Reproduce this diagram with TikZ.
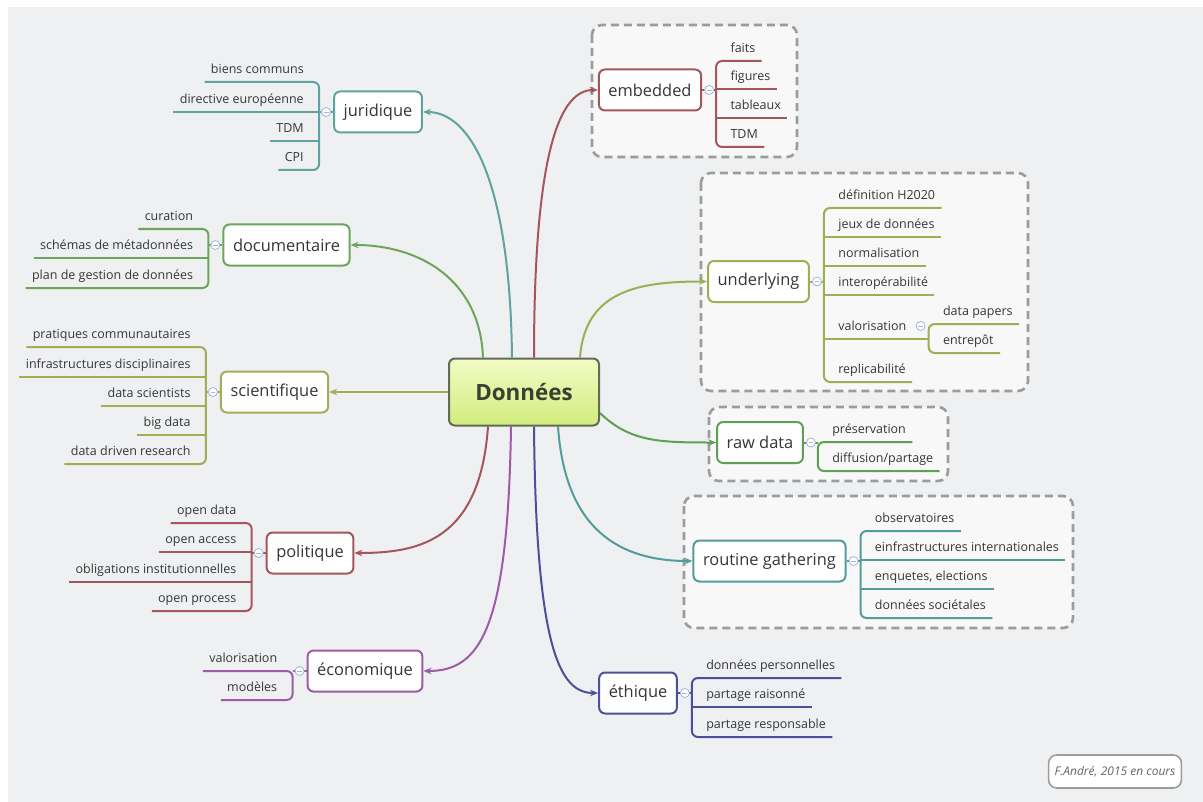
\documentclass[tikz,border=0pt]{standalone}
\usepackage{fontspec}
\setmainfont{Open Sans}
\usetikzlibrary{calc, arrows.meta, backgrounds}

\definecolor{bggray}{HTML}{EFF0F2}
\definecolor{txt}{HTML}{363636}
\definecolor{boxgray}{HTML}{9C9C9C}
\definecolor{foldc}{HTML}{A3B6D8}
\definecolor{cjur}{HTML}{5FA39E}
\definecolor{cdoc}{HTML}{6CA65A}
\definecolor{csci}{HTML}{A6AB55}
\definecolor{cpol}{HTML}{A4575A}
\definecolor{ceco}{HTML}{9C5CA6}
\definecolor{cund}{HTML}{9DAE55}
\definecolor{craw}{HTML}{5EA054}
\definecolor{crou}{HTML}{539C9A}
\definecolor{ceth}{HTML}{4D4F98}
\definecolor{donline}{HTML}{626B57}
\definecolor{dontop}{HTML}{F3FBC6}
\definecolor{donbot}{HTML}{D2EC7C}
\definecolor{dontxt}{HTML}{3B4032}

\newcommand{\leaffont}{\fontsize{6.25}{7.5}\selectfont}
\newcommand{\topicfont}{\fontsize{8.2}{10}\selectfont}

\tikzset{
  center/.style={draw=donline, line width=1pt, rounded corners=3pt,
    top color=dontop, bottom color=donbot, text=dontxt,
    font=\fontsize{11.2}{13}\selectfont\bfseries, minimum width=75pt, minimum height=33.5pt},
  topic/.style={draw, line width=1pt, rounded corners=3pt, fill=white, text=txt,
    font=\topicfont, minimum height=20.5pt, inner xsep=4.8pt},
  leafl/.style={anchor=south east, inner xsep=3pt, inner ysep=2pt, text height=0.72em,
    text depth=0.22em, font=\leaffont, text=txt},
  leafr/.style={leafl, anchor=south west},
  branch/.style={line width=1pt, rounded corners=3pt},
  link/.style={line width=1pt, -{Stealth[length=4pt,width=3.2pt]}},
  groupbox/.style={draw=boxgray, line width=1.3pt, dash pattern=on 4pt off 2.5pt,
    rounded corners=5pt, fill=white!55!bggray},
  fold/.style={circle, draw=foldc, fill=white, inner sep=0pt, minimum size=4.5pt,
    path picture={\draw[foldc] ([xshift=-1.2pt]path picture bounding box.center)
      -- ([xshift=1.2pt]path picture bounding box.center);}},
  note/.style={draw=boxgray, line width=0.8pt, rounded corners=4pt, fill=white,
    text=black!60, font=\fontsize{6}{7}\selectfont\itshape, minimum height=16.5pt, inner xsep=3pt}
}

\begin{document}
\begin{tikzpicture}[x=0.5pt, y=-0.5pt]
\useasboundingbox (0,0) rectangle (1203,802);

% central topic
\node[center] (don) at (524,392) {Données};

% main topics
\node[topic, draw=cjur] (jur) at (378,112) {juridique};
\node[topic, draw=cdoc] (doc) at (286.5,245) {documentaire};
\node[topic, draw=csci] (sci) at (274.5,392) {scientifique};
\node[topic, draw=cpol] (pol) at (310,553) {politique};
\node[topic, draw=ceco] (eco) at (365,671) {économique};
\node[topic, draw=cpol] (emb) at (650,90) {embedded};
\node[topic, draw=cund] (und) at (758.5,281.5) {underlying};
\node[topic, draw=craw] (raw) at (760,442.5) {raw data};
\node[topic, draw=crou] (rou) at (769.5,561) {routine gathering};
\node[topic, draw=ceth] (eth) at (638,693) {éthique};

% juridique
\coordinate (jsp) at ($(jur.west)+(-14,0)$);
\foreach \i/\lbl/\y in {1/biens communs/82, 2/directive européenne/112, 3/TDM/141, 4/CPI/170}
  \node[leafl] (ju\i) at ($(jsp |- 0,\y)+(-9,0)$) {\lbl};
\draw[branch, cjur] (ju1.south west) -- (ju1.south west -| jsp) -- (ju4.south west -| jsp) -- (ju4.south west);
\foreach \i in {2,3} \draw[branch, cjur] (ju\i.south west) -- (ju\i.south west -| jsp);
\draw[branch, cjur] (jur.west) -- (jsp |- jur.west);
\node[fold] at ($(jur.west)!0.5!(jsp |- jur.west)$) {};

% documentaire
\coordinate (dsp) at ($(doc.west)+(-14,0)$);
\foreach \i/\lbl/\y in {1/curation/229, 2/schémas de métadonnées/258, 3/plan de gestion de données/288}
  \node[leafl] (do\i) at ($(dsp |- 0,\y)+(-9,0)$) {\lbl};
\draw[branch, cdoc] (do1.south west) -- (do1.south west -| dsp) -- (do3.south west -| dsp) -- (do3.south west);
\draw[branch, cdoc] (do2.south west) -- (do2.south west -| dsp);
\draw[branch, cdoc] (doc.west) -- (dsp |- doc.west);
\node[fold] at ($(doc.west)!0.5!(dsp |- doc.west)$) {};

% scientifique
\coordinate (ssp) at ($(sci.west)+(-14,0)$);
\foreach \i/\lbl/\y in {1/pratiques communautaires/347, 2/infrastructures disciplinaires/377,
    3/data scientists/406, 4/big data/435, 5/data driven research/464}
  \node[leafl] (sc\i) at ($(ssp |- 0,\y)+(-9,0)$) {\lbl};
\draw[branch, csci] (sc1.south west) -- (sc1.south west -| ssp) -- (sc5.south west -| ssp) -- (sc5.south west);
\foreach \i in {2,3,4} \draw[branch, csci] (sc\i.south west) -- (sc\i.south west -| ssp);
\draw[branch, csci] (sci.west) -- (ssp |- sci.west);
\node[fold] at ($(sci.west)!0.5!(ssp |- sci.west)$) {};

% politique
\coordinate (psp) at ($(pol.west)+(-14,0)$);
\foreach \i/\lbl/\y in {1/open data/523, 2/open access/552, 3/obligations institutionnelles/582, 4/open process/611}
  \node[leafl] (po\i) at ($(psp |- 0,\y)+(-9,0)$) {\lbl};
\draw[branch, cpol] (po1.south west) -- (po1.south west -| psp) -- (po4.south west -| psp) -- (po4.south west);
\foreach \i in {2,3} \draw[branch, cpol] (po\i.south west) -- (po\i.south west -| psp);
\draw[branch, cpol] (pol.west) -- (psp |- pol.west);
\node[fold] at ($(pol.west)!0.5!(psp |- pol.west)$) {};

% economique
\coordinate (esp) at ($(eco.west)+(-14,0)$);
\foreach \i/\lbl/\y in {1/valorisation/671, 2/modèles/700}
  \node[leafl] (ec\i) at ($(esp |- 0,\y)+(-9,0)$) {\lbl};
\draw[branch, ceco] (ec1.south west) -- (ec1.south west -| esp) -- (ec2.south west -| esp) -- (ec2.south west);
\draw[branch, ceco] (eco.west) -- (esp |- eco.west);
\node[fold] at ($(eco.west)!0.5!(esp |- eco.west)$) {};

% embedded
\coordinate (msp) at ($(emb.east)+(14,0)$);
\foreach \i/\lbl/\y in {1/faits/61, 2/figures/89, 3/tableaux/118, 4/TDM/147}
  \node[leafr] (em\i) at ($(msp |- 0,\y)+(8,0)$) {\lbl};
\draw[branch, cpol] (em1.south east) -- (em1.south west -| msp) -- (em4.south west -| msp) -- (em4.south east);
\foreach \i in {2,3} \draw[branch, cpol] (em\i.south west -| msp) -- (em\i.south east);
\draw[branch, cpol] (emb.east) -- (msp |- emb.east);
\node[fold] at ($(emb.east)!0.5!(msp |- emb.east)$) {};

% underlying
\coordinate (usp) at ($(und.east)+(14,0)$);
\foreach \i/\lbl/\y in {1/définition H2020/208, 2/jeux de données/237, 3/normalisation/266,
    4/interopérabilité/295, 5/valorisation/339, 6/replicabilité/382}
  \node[leafr] (un\i) at ($(usp |- 0,\y)+(8,0)$) {\lbl};
\draw[branch, cund] (un1.south east) -- (un1.south west -| usp) -- (un6.south west -| usp) -- (un6.south east);
\foreach \i in {2,3,4} \draw[branch, cund] (un\i.south west -| usp) -- (un\i.south east);
\draw[branch, cund] (und.east) -- (usp |- und.east);
\node[fold] at ($(und.east)!0.5!(usp |- und.east)$) {};
% valorisation sub-branch
\coordinate (vsp) at ($(un5.south east)+(16,0)$);
\draw[branch, cund] (un5.south west -| usp) -- (vsp);
\foreach \i/\lbl/\y in {1/data papers/324, 2/entrepôt/353}
  \node[leafr] (va\i) at ($(vsp |- 0,\y)+(8,0)$) {\lbl};
\draw[branch, cund] (va1.south east) -- (va1.south west -| vsp) -- (va2.south west -| vsp) -- (va2.south east);
\node[fold] at ($(vsp)+(-8,-13)$) {};

% raw data
\coordinate (rsp) at ($(raw.east)+(14,0)$);
\foreach \i/\lbl/\y in {1/préservation/442, 2/diffusion\slash partage/471}
  \node[leafr] (ra\i) at ($(rsp |- 0,\y)+(8,0)$) {\lbl};
\draw[branch, craw] (ra1.south east) -- (ra1.south west -| rsp) -- (ra2.south west -| rsp) -- (ra2.south east);
\draw[branch, craw] (raw.east) -- (rsp |- raw.east);
\node[fold] at ($(raw.east)!0.5!(rsp |- raw.east)$) {};

% routine gathering
\coordinate (gsp) at ($(rou.east)+(14,0)$);
\foreach \i/\lbl/\y in {1/observatoires/531, 2/einfrastructures internationales/560,
    3/{enquetes, elections}/589, 4/données sociétales/618}
  \node[leafr] (ro\i) at ($(gsp |- 0,\y)+(8,0)$) {\lbl};
\draw[branch, crou] (ro1.south east) -- (ro1.south west -| gsp) -- (ro4.south west -| gsp) -- (ro4.south east);
\foreach \i in {2,3} \draw[branch, crou] (ro\i.south west -| gsp) -- (ro\i.south east);
\draw[branch, crou] (rou.east) -- (gsp |- rou.east);
\node[fold] at ($(rou.east)!0.5!(gsp |- rou.east)$) {};

% ethique
\coordinate (tsp) at ($(eth.east)+(14,0)$);
\foreach \i/\lbl/\y in {1/données personnelles/678, 2/partage raisonné/707, 3/partage responsable/737}
  \node[leafr] (et\i) at ($(tsp |- 0,\y)+(8,0)$) {\lbl};
\draw[branch, ceth] (et1.south east) -- (et1.south west -| tsp) -- (et3.south west -| tsp) -- (et3.south east);
\draw[branch, ceth] (et2.south west -| tsp) -- (et2.south east);
\draw[branch, ceth] (eth.east) -- (tsp |- eth.east);
\node[fold] at ($(eth.east)!0.5!(tsp |- eth.east)$) {};

\node[note] (credit) at (1115,771.5) {F.André, 2015 en cours};

\begin{scope}[on background layer]
\fill[bggray] (8,7) rectangle (1203,802);
% dashed groups
\draw[groupbox] (592,25) rectangle (797,157);
\draw[groupbox] (701,173) rectangle (1028,391);
\draw[groupbox] (709,407) rectangle (948,481);
\draw[groupbox] (684,496) rectangle (1073,628);
% links from the central topic
\draw[link, cjur] ($(don.north)+(-12,0)$) .. controls (510,180) and (470,112) .. (jur.east);
\draw[link, cdoc] ($(don.north)+(-41,0)$) .. controls (480,280) and (420,245) .. (doc.east);
\draw[link, csci] (don.west) -- (sci.east);
\draw[link, cpol] ($(don.south)+(-36,0)$) .. controls (480,540) and (420,553) .. (pol.east);
\draw[link, ceco] ($(don.south)+(-13,0)$) .. controls (508,630) and (480,671) .. (eco.east);
\draw[link, cpol] ($(don.north)+(10,0)$) .. controls (534,150) and (560,90) .. (emb.west);
\draw[link, cund] ($(don.north)+(56,0)$) .. controls (585,290) and (640,281.5) .. (und.west);
\draw[link, craw] ($(don.east)+(0,21)$) .. controls (630,442) and (660,442.5) .. (raw.west);
\draw[link, crou] ($(don.south)+(34,0)$) .. controls (565,530) and (620,561) .. (rou.west);
\draw[link, ceth] ($(don.south)+(10,0)$) .. controls (536,650) and (560,693) .. (eth.west);
\end{scope}
\end{tikzpicture}
\end{document}
